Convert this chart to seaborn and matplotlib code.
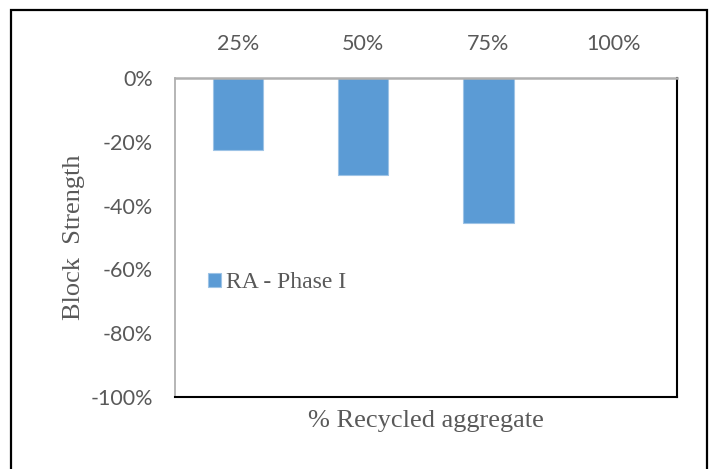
import matplotlib
matplotlib.use("Agg")
import matplotlib.pyplot as plt
from matplotlib.patches import Rectangle
import seaborn as sns
import pandas as pd

categories = ["25%", "50%", "75%", "100%"]
values = [-22.6, -30.3, -45.6, 0.0]
yticks = [0, -20, -40, -60, -80, -100]
series_name = "RA - Phase I"

sns.set_theme(style="white")
plt.rcParams['font.family'] = ['Lato', 'DejaVu Sans']

W, H = 714, 469
fig = plt.figure(figsize=(W / 100, H / 100), dpi=100)
ax = fig.add_axes([175 / W, (H - 397) / H, 501.7 / W, 319 / H])

df = pd.DataFrame({"cat": categories, "val": values})
sns.barplot(data=df, x="cat", y="val", ax=ax, color="#5B9BD5", width=0.4,
            saturation=1, edgecolor="#9DC3E6", linewidth=0.8, label=series_name)

ax.set_ylim(-100, 0)
ax.set_xlim(-0.5, 3.5)
ax.set_yticks(yticks)
ax.set_yticklabels([f"{v}%" for v in yticks])
ax.xaxis.tick_top()
ax.tick_params(axis="x", length=0, pad=17, labelsize=15.5, labelcolor="#595959")
ax.tick_params(axis="y", length=0, pad=16, labelsize=15.5, labelcolor="#595959")

ax.set_xlabel("% Recycled aggregate", family=["Liberation Serif"], fontsize=19,
              color="#595959", labelpad=9)
ax.xaxis.set_label_position("bottom")
ax.set_ylabel("Block  Strength", family=["Liberation Serif"], fontsize=19,
              color="#595959", labelpad=4)

for s in ["top", "left"]:
    ax.spines[s].set_color("#B0B0B0")
ax.spines["top"].set_linewidth(1.8)
ax.spines["left"].set_linewidth(1.3)
for s in ["bottom", "right"]:
    ax.spines[s].set_color("black")
    ax.spines[s].set_linewidth(1.5)

leg = ax.legend(loc="center left", bbox_to_anchor=(0.024, 0.358), frameon=False,
                prop={"family": "Liberation Serif", "size": 17},
                handlelength=0.55, handleheight=0.55, handletextpad=0.2)
for t in leg.get_texts():
    t.set_color("#595959")

frame = Rectangle((11.5 / W, -0.01), (707 - 11.5) / W, (H - 10.5) / H + 0.01,
                  transform=fig.transFigure, fill=False, edgecolor="black",
                  linewidth=1.6, clip_on=False)
fig.patches.append(frame)

fig.savefig("out.png", dpi=100)
